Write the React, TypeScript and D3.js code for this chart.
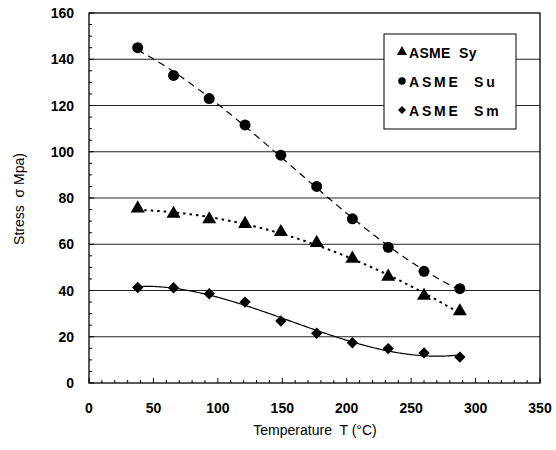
import React, { useEffect, useRef } from 'react';
import * as d3 from 'd3';

// temperatures (°C) and ASME stress values (MPa)
const temps = [37.8, 65.6, 93.3, 121.1, 148.9, 176.7, 204.4, 232.2, 260, 287.8];
const su = [145, 133, 123, 111.6, 98.5, 85, 71, 58.7, 48.3, 40.8];
const sy = [75.5, 73.2, 70.8, 68.8, 65.3, 60.6, 53.8, 46, 37.8, 31];
const sm = [41.3, 41.2, 38.6, 35, 26.8, 21.5, 17.4, 14.9, 13, 11.2];
const xTicks = [0, 50, 100, 150, 200, 250, 300, 350];
const yTicks = [0, 20, 40, 60, 80, 100, 120, 140, 160];

const W = 556;
const H = 450;
const m = { left: 89, right: 540, top: 13, bottom: 383 };

// least squares polynomial, like the spreadsheet trendline
function polyFit(xs: number[], ys: number[], order: number) {
  const n = order + 1;
  const A: number[][] = [];
  for (let r = 0; r < n; r++) {
    A.push([]);
    for (let c = 0; c <= n; c++) {
      let s = 0;
      for (let k = 0; k < xs.length; k++) {
        s += c < n ? Math.pow(xs[k], r + c) : ys[k] * Math.pow(xs[k], r);
      }
      A[r].push(s);
    }
  }
  for (let i = 0; i < n; i++) {
    let p = i;
    for (let r = i + 1; r < n; r++) if (Math.abs(A[r][i]) > Math.abs(A[p][i])) p = r;
    [A[i], A[p]] = [A[p], A[i]];
    for (let r = 0; r < n; r++) {
      if (r === i) continue;
      const f = A[r][i] / A[i][i];
      for (let c = i; c <= n; c++) A[r][c] -= f * A[i][c];
    }
  }
  const coef = A.map((row, i) => row[n] / row[i]);
  return (x: number) => coef.reduce((s, c, i) => s + c * Math.pow(x, i), 0);
}

export default function App() {
  const ref = useRef<SVGSVGElement>(null);

  useEffect(() => {
    const svg = d3.select(ref.current);
    svg.selectAll('*').remove();
    const font = 'Liberation Sans, Arial, sans-serif';

    const x = d3.scaleLinear().domain([0, 350]).range([m.left, m.right]);
    const y = d3.scaleLinear().domain([0, 160]).range([m.bottom, m.top]);

    // grid
    svg.append('g').selectAll('line').data(yTicks.slice(1, -1)).enter()
      .append('line')
      .attr('x1', m.left).attr('x2', m.right)
      .attr('y1', d => y(d)).attr('y2', d => y(d))
      .attr('stroke', '#222').attr('stroke-width', 1);

    // minor / major ticks, pointing inside
    const ty = d3.range(0, 161, 5);
    svg.append('g').selectAll('line').data(ty).enter()
      .append('line')
      .attr('x1', m.left).attr('x2', d => m.left + (d % 20 === 0 ? 5 : 3))
      .attr('y1', d => y(d)).attr('y2', d => y(d))
      .attr('stroke', '#000');
    const tx = d3.range(0, 351, 10);
    svg.append('g').selectAll('line').data(tx).enter()
      .append('line')
      .attr('y1', m.bottom).attr('y2', d => m.bottom - (d % 50 === 0 ? 5 : 3))
      .attr('x1', d => x(d)).attr('x2', d => x(d))
      .attr('stroke', '#000');

    // frame
    svg.append('rect')
      .attr('x', m.left).attr('y', m.top)
      .attr('width', m.right - m.left).attr('height', m.bottom - m.top)
      .attr('fill', 'none').attr('stroke', '#000').attr('stroke-width', 1.3);

    // tick labels
    svg.append('g').selectAll('text').data(yTicks).enter()
      .append('text')
      .attr('x', 74).attr('y', d => y(d) + 5)
      .attr('text-anchor', 'end')
      .attr('font-family', font).attr('font-weight', 'bold').attr('font-size', 14)
      .text(d => d);
    svg.append('g').selectAll('text').data(xTicks).enter()
      .append('text')
      .attr('x', d => x(d)).attr('y', 413)
      .attr('text-anchor', 'middle')
      .attr('font-family', font).attr('font-weight', 'bold').attr('font-size', 14)
      .text(d => d);

    // axis titles
    svg.append('text')
      .attr('x', 315).attr('y', 435)
      .attr('text-anchor', 'middle')
      .attr('font-family', font).attr('font-size', 14)
      .attr('xml:space', 'preserve')
      .text('Temperature  T (°C)');
    svg.append('text')
      .attr('transform', 'translate(24 199) rotate(-90)')
      .attr('text-anchor', 'middle')
      .attr('font-family', font).attr('font-size', 14)
      .attr('xml:space', 'preserve')
      .text('Stress  σ Mpa)');

    // trend lines + markers (diamond = square turned 45°)
    const series = [
      { vals: su, dash: '7,5', sym: d3.symbolCircle, size: 95, rot: 0 },
      { vals: sy, dash: '2.5,4', sym: d3.symbolTriangle, size: 85, rot: 0 },
      { vals: sm, dash: null, sym: d3.symbolSquare, size: 64, rot: 45 },
    ];
    const xs = d3.range(temps[0], temps[temps.length - 1] + 0.01, 1);
    const line = d3.line<number>().x(d => x(d[0])).y(d => y(d[1]));
    series.forEach(s => {
      const f = polyFit(temps, s.vals, 3);
      const pts: any = xs.map(t => [t, f(t)]);
      svg.append('path')
        .attr('d', line(pts))
        .attr('fill', 'none')
        .attr('stroke', '#000')
        .attr('stroke-width', s.dash === '2.5,4' ? 2 : 1.2)
        .attr('stroke-dasharray', s.dash);
      svg.append('g').selectAll('path').data(s.vals).enter()
        .append('path')
        .attr('d', d3.symbol().type(s.sym).size(s.size)())
        .attr('transform', (d, i) => `translate(${x(temps[i])} ${y(d)}) rotate(${s.rot})`)
        .attr('fill', '#000');
    });

    // legend
    const lg = svg.append('g');
    lg.append('rect')
      .attr('x', 384).attr('y', 34).attr('width', 132).attr('height', 95)
      .attr('fill', '#fff').attr('stroke', '#000').attr('stroke-width', 1);
    const items = [
      { sym: d3.symbolTriangle, size: 45, rot: 0, label: 'ASME  Sy', ls: 0.3, dy: 53 },
      { sym: d3.symbolCircle, size: 45, rot: 0, label: 'ASME  Su', ls: 2.8, dy: 82 },
      { sym: d3.symbolSquare, size: 32, rot: 45, label: 'ASME  Sm', ls: 2.8, dy: 111 },
    ];
    items.forEach(it => {
      lg.append('path')
        .attr('d', d3.symbol().type(it.sym).size(it.size)())
        .attr('transform', `translate(402 ${it.dy - 1}) rotate(${it.rot})`)
        .attr('fill', '#000');
      lg.append('text')
        .attr('x', 409).attr('y', it.dy + 5)
        .attr('font-family', font).attr('font-weight', 'bold').attr('font-size', 14)
        .attr('letter-spacing', it.ls)
        .attr('xml:space', 'preserve')
        .text(it.label);
    });
  }, []);

  return (
    <div style={{ position: 'absolute', left: 0, top: 0 }}>
      <svg ref={ref} width={W} height={H} style={{ display: 'block', background: '#fff' }} />
    </div>
  );
}
